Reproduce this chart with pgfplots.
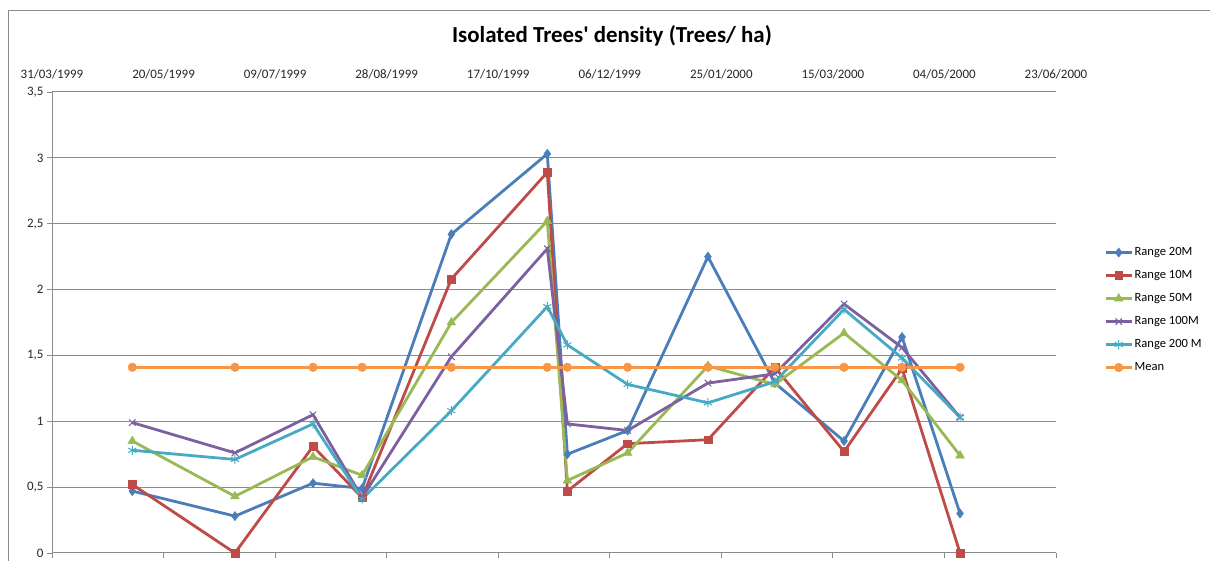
\documentclass[border=0pt]{standalone}
\usepackage{pgfplots}
\pgfplotsset{compat=1.18}
\usepackage{fontspec}
\setmainfont{Carlito}[Ligatures=TeXOff]
\definecolor{c1}{HTML}{4A7EBB}
\definecolor{c2}{HTML}{BE4B48}
\definecolor{c3}{HTML}{98B954}
\definecolor{c4}{HTML}{7D60A0}
\definecolor{c5}{HTML}{46AAC5}
\definecolor{c6}{HTML}{F79646}
\definecolor{gridc}{HTML}{8C8C8C}
\begin{document}
\begin{tikzpicture}[x=1bp,y=1bp]
\path[use as bounding box] (0,0) rectangle (1210,561);
\draw[gridc, line width=1bp] (8,-2) -- (8,550) -- (1212,550);
\node[font=\bfseries\fontsize{23}{27}\selectfont] at (612,525) {Isolated Trees' density (Trees/ ha)};
\begin{axis}[
  scale only axis,
  width=1004bp, height=461bp,
  at={(52bp,8bp)}, anchor=south west,
  xmin=0, xmax=450, ymin=0, ymax=3.5,
  xtick={0,50,100,150,200,250,300,350,400,450},
  xticklabels={31/03/1999,20/05/1999,09/07/1999,28/08/1999,17/10/1999,06/12/1999,25/01/2000,15/03/2000,04/05/2000,23/06/2000},
  ytick={0,0.5,1,1.5,2,2.5,3,3.5},
  xtick pos=left, xticklabel pos=right,
  ytick pos=left,
  tick align=outside,
  major tick length=5bp,
  tick style={gridc, line width=0.8bp},
  axis line style={draw=none},
  ymajorgrids,
  grid style={gridc, line width=1bp},
  /pgf/number format/assume math mode=true,
  /pgf/number format/use comma,
  ticklabel style={font=\fontsize{13}{15}\selectfont, text=black!85},
  xticklabel style={yshift=4bp},
  clip=false,
  legend cell align=left,
  legend style={draw=none, fill=none, at={(1.045,0.527)}, anchor=west,
    font=\fontsize{12.6}{14}\selectfont, row sep=8bp,
    nodes={inner sep=1.5bp, text height=9bp, text depth=3bp}},
  legend image code/.code={\draw[mark repeat=2,mark phase=2,#1] plot coordinates {(0bp,0bp) (13bp,0bp) (26bp,0bp)};},
  every axis plot/.append style={line width=2.8bp},
]
\draw[gridc, line width=1bp] (axis cs:0,0) -- (axis cs:0,3.5);
\addplot[c1, mark=diamond*, mark size=4.6bp, mark options={line width=0.5bp}] coordinates {
(36,0.47) (82,0.28) (117,0.53) (139,0.49) (179,2.42) (222,3.03) (231,0.75) (258,0.93) (294,2.25) (324,1.29) (355,0.85) (381,1.64) (407,0.30)};
\addlegendentry{Range 20M}
\addplot[c2, mark=square*, mark size=3.9bp, mark options={line width=0.5bp}] coordinates {
(36,0.52) (82,0.00) (117,0.81) (139,0.42) (179,2.08) (222,2.89) (231,0.47) (258,0.83) (294,0.86) (324,1.41) (355,0.77) (381,1.40) (407,0.00)};
\addlegendentry{Range 10M}
\addplot[c3, mark=triangle*, mark size=5bp, mark options={line width=0.5bp}] coordinates {
(36,0.85) (82,0.43) (117,0.73) (139,0.59) (179,1.75) (222,2.52) (231,0.55) (258,0.76) (294,1.42) (324,1.28) (355,1.67) (381,1.31) (407,0.74)};
\addlegendentry{Range 50M}
\addplot[c4, mark=x, mark size=4.6bp, mark options={line width=1bp}] coordinates {
(36,0.99) (82,0.76) (117,1.05) (139,0.42) (179,1.49) (222,2.31) (231,0.98) (258,0.93) (294,1.29) (324,1.36) (355,1.89) (381,1.56) (407,1.03)};
\addlegendentry{Range 100M}
\addplot[c5, mark=asterisk, mark size=4.6bp, mark options={line width=1bp}] coordinates {
(36,0.78) (82,0.71) (117,0.98) (139,0.41) (179,1.08) (222,1.87) (231,1.58) (258,1.28) (294,1.14) (324,1.30) (355,1.85) (381,1.48) (407,1.03)};
\addlegendentry{Range 200 M}
\addplot[c6, mark=*, mark size=4.3bp, mark options={line width=0.5bp}] coordinates {
(36,1.41) (82,1.41) (117,1.41) (139,1.41) (179,1.41) (222,1.41) (231,1.41) (258,1.41) (294,1.41) (324,1.41) (355,1.41) (381,1.41) (407,1.41)};
\addlegendentry{Mean}
\end{axis}
\end{tikzpicture}
\end{document}
